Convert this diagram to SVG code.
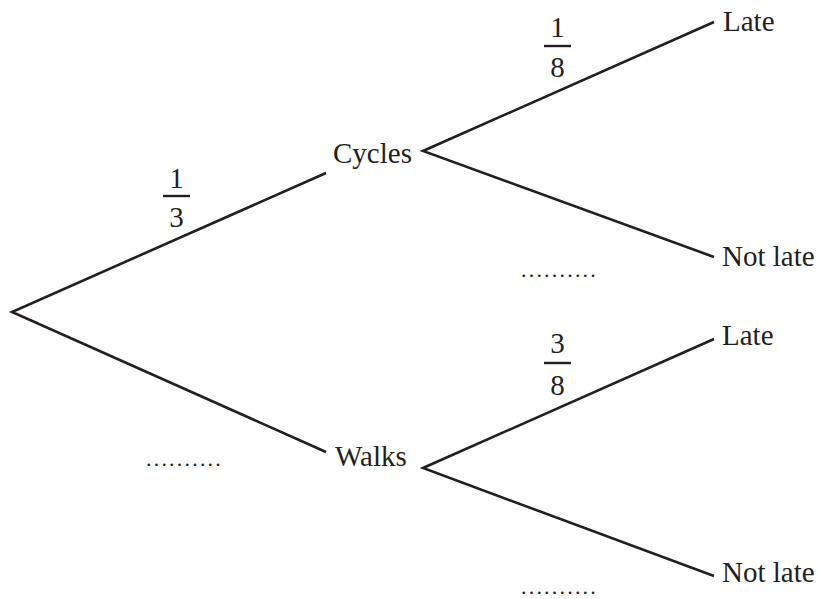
<svg xmlns="http://www.w3.org/2000/svg" width="818" height="599" viewBox="0 0 818 599">
<style>
  .t { font-family: "Liberation Serif", "Times New Roman", serif; font-size: 29px; fill: #231f20; }
  .m { text-anchor: middle; }
  .d { font-family: "Liberation Serif", "Times New Roman", serif; font-size: 22px; letter-spacing: 2.2px; fill: #231f20; }
  .br { fill: none; stroke: #231f20; stroke-width: 2.6; stroke-linejoin: miter; stroke-miterlimit: 20; }
  .bar { stroke: #231f20; stroke-width: 2.4; }
</style>
<rect width="818" height="599" fill="#ffffff"/>
<g id="connectors">
  <polyline class="br" points="326,173 12,312 326,452"/>
  <polyline class="br" points="714,22 423,151 714,257"/>
  <polyline class="br" points="714,339 423,468 714,576"/>
</g>
<g id="node-cycles"><text class="t" x="333" y="163">Cycles</text></g>
<g id="node-walks"><text class="t" x="335" y="466">Walks</text></g>
<g id="node-late-1"><text class="t" x="723" y="31">Late</text></g>
<g id="node-notlate-1"><text class="t" x="722" y="266">Not late</text></g>
<g id="node-late-2"><text class="t" x="722" y="345">Late</text></g>
<g id="node-notlate-2"><text class="t" x="722" y="582">Not late</text></g>
<g id="label-1-3">
  <text class="t m" x="176.5" y="188">1</text>
  <line class="bar" x1="163" y1="196" x2="190" y2="196"/>
  <text class="t m" x="176.5" y="227">3</text>
</g>
<g id="label-1-8">
  <text class="t m" x="557.5" y="37">1</text>
  <line class="bar" x1="544" y1="46" x2="571" y2="46"/>
  <text class="t m" x="557.5" y="77">8</text>
</g>
<g id="label-3-8">
  <text class="t m" x="557.5" y="353">3</text>
  <line class="bar" x1="544" y1="363" x2="571" y2="363"/>
  <text class="t m" x="557.5" y="395">8</text>
</g>
<g id="blanks">
  <text class="d" x="146" y="465.5">..........</text>
  <text class="d" x="521" y="276.5">..........</text>
  <text class="d" x="521" y="594">..........</text>
</g>
</svg>
